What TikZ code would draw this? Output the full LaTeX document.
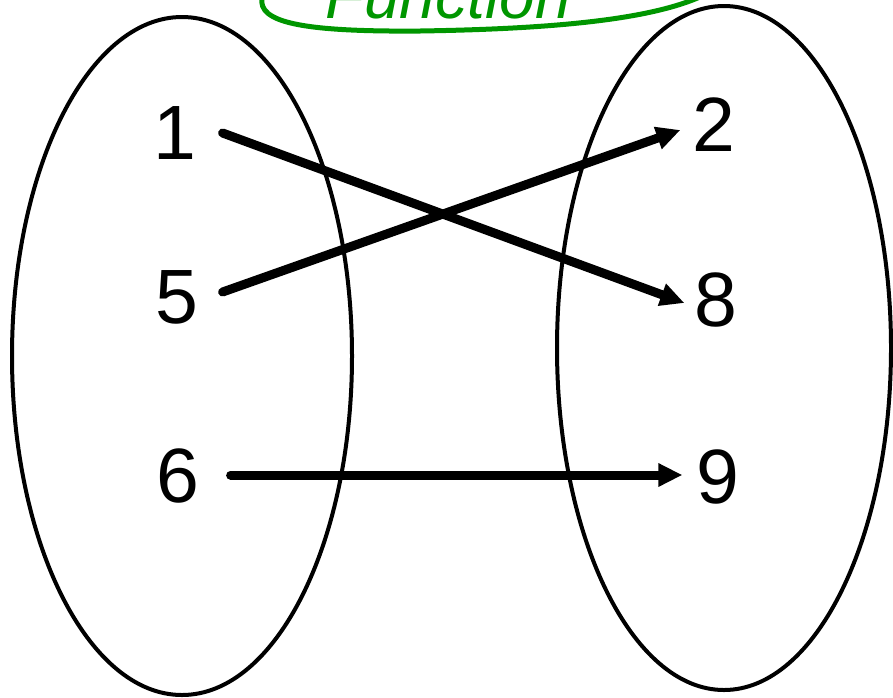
\documentclass[tikz,border=0pt]{standalone}
\usepackage{fontspec}
\setmainfont{Liberation Sans}
\usetikzlibrary{arrows.meta}
\definecolor{hand}{RGB}{0,150,0}
\tikzset{
  setline/.style={draw=black, line width=4pt},
  num/.style={inner sep=0pt, font=\fontsize{77}{77}\selectfont},
  arr/.style={line width=9pt, line cap=round, -{Triangle[length=24pt,width=22pt]}},
  greenline/.style={draw=hand, line width=5pt, line cap=round}
}
\begin{document}
\begin{tikzpicture}[x=1pt,y=-1pt]
\useasboundingbox (0,0) rectangle (893,697);
\clip (0,0) rectangle (893,697);
% sets
\draw[setline] (182,356) ellipse [x radius=170, y radius=339];
\draw[setline] (724,348) ellipse [x radius=167, y radius=342];
% handwriting
\draw[greenline] (262,-2) .. controls (258,22) and (300,32) .. (420,31)
  .. controls (550,29) and (650,20) .. (702,-4);
\node[text=hand, font=\fontsize{64}{64}\selectfont\itshape, inner sep=0pt, anchor=base west] (fn) at (325,18) {Function};
% elements
\node[num] (n1) at (175,133) {1};
\node[num] (n5) at (177,297) {5};
\node[num] (n6) at (178,476) {6};
\node[num] (n2) at (714,125) {2};
\node[num] (n8) at (716,300) {8};
\node[num] (n9) at (718,477) {9};
% mapping
\draw[arr] ([xshift=26pt,yshift=0pt]n1.east) -- ([xshift=-10pt,yshift=-3pt]n8.west);
\draw[arr] ([xshift=24pt,yshift=5pt]n5.east) -- ([xshift=-12pt,yshift=-5pt]n2.west);
\draw[arr] ([xshift=31pt,yshift=1pt]n6.east) -- ([xshift=-14pt,yshift=2pt]n9.west);
\end{tikzpicture}
\end{document}
